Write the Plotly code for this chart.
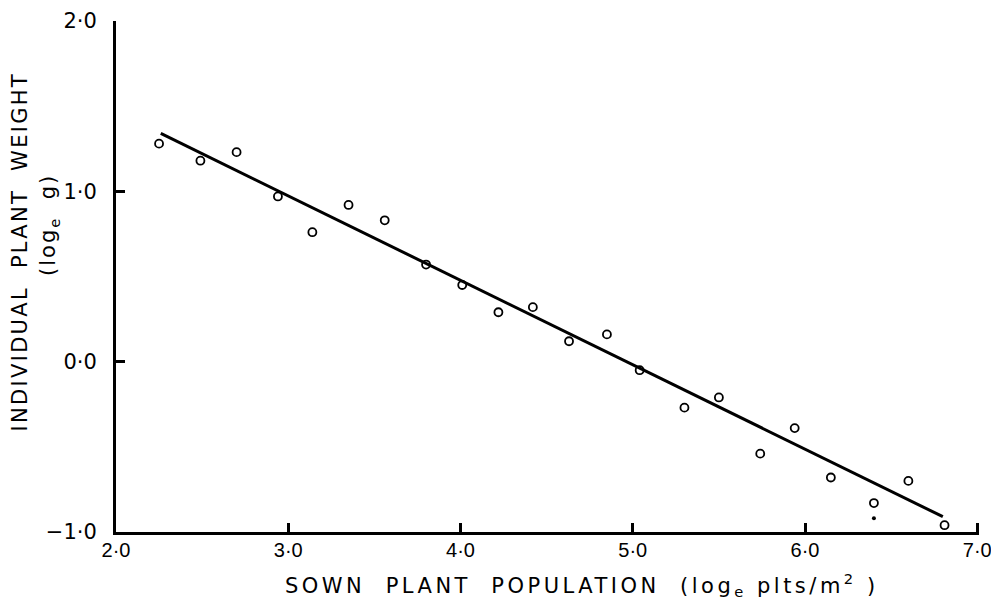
import plotly.graph_objects as go

# Data
pop_x = [2.25, 2.49, 2.70, 2.94, 3.14, 3.35, 3.56, 3.80, 4.01, 4.22, 4.42, 4.63,
         4.85, 5.04, 5.30, 5.50, 5.74, 5.94, 6.15, 6.40, 6.60, 6.81]
weight_y = [1.28, 1.18, 1.23, 0.97, 0.76, 0.92, 0.83, 0.57, 0.45, 0.29, 0.32, 0.12,
            0.16, -0.05, -0.27, -0.21, -0.54, -0.39, -0.68, -0.83, -0.70, -0.96]
dot_x = [6.40]
dot_y = [-0.92]
fit_x = [2.26, 6.80]
fit_y = [1.34, -0.91]

x_tickvals = [2, 3, 4, 5, 6, 7]
x_ticktext = ["2·0", "3·0", "4·0", "5·0", "6·0", "7·0"]
y_tickvals = [-1, 0, 1, 2]
y_ticktext = ["−1·0", "0·0", "1·0", "2·0"]

x_title = "SOWN  PLANT  POPULATION  (log<sub>e</sub> plts/m<sup>2</sup> )"
y_title = "INDIVIDUAL  PLANT  WEIGHT"
y_title2 = "(log<sub>e</sub>  g)"

FONT = "DejaVu Sans"
TICKFONT_X = "Liberation Sans"

fig = go.Figure()
fig.add_trace(go.Scatter(x=fit_x, y=fit_y, mode="lines",
                         line=dict(color="black", width=3), showlegend=False,
                         hoverinfo="skip"))
fig.add_trace(go.Scatter(x=pop_x, y=weight_y, mode="markers",
                         marker=dict(symbol="circle-open", size=8, color="black",
                                     line=dict(width=1.8, color="black")),
                         showlegend=False, hoverinfo="skip"))
fig.add_trace(go.Scatter(x=dot_x, y=dot_y, mode="markers",
                         marker=dict(symbol="circle", size=4, color="black"),
                         showlegend=False, hoverinfo="skip"))

fig.update_layout(
    width=991, height=608,
    margin=dict(l=116, r=12, t=21, b=76, autoexpand=False),
    paper_bgcolor="white", plot_bgcolor="white",
    font=dict(family=FONT, color="black", size=20),
    xaxis=dict(range=[2, 7.01], showgrid=False, zeroline=False, automargin=False,
               showline=True, linecolor="black", linewidth=3,
               ticks="inside", ticklen=9, tickwidth=3, tickcolor="black",
               tickvals=x_tickvals, ticktext=x_ticktext, ticklabeloverflow="allow",
               tickfont=dict(family=TICKFONT_X, size=20), ticklabelstandoff=-2),
    yaxis=dict(range=[-1, 2], showgrid=False, zeroline=False, automargin=False,
               showline=True, linecolor="black", linewidth=3,
               ticks="inside", ticklen=9, tickwidth=3, tickcolor="black",
               tickvals=y_tickvals, ticktext=y_ticktext, ticklabeloverflow="allow",
               tickfont=dict(family=FONT, size=21), ticklabelstandoff=12),
)

fig.add_annotation(xref="paper", yref="paper", x=0.540, y=-0.103,
                   text=x_title,
                   showarrow=False, xanchor="center", yanchor="middle",
                   font=dict(family=FONT, size=21, color="black"))
fig.add_annotation(xref="paper", yref="paper", x=-0.1115, y=0.548,
                   text=y_title,
                   textangle=-90, showarrow=False, xanchor="center", yanchor="middle",
                   font=dict(family=FONT, size=21, color="black"))
fig.add_annotation(xref="paper", yref="paper", x=-0.077, y=0.600,
                   text=y_title2,
                   textangle=-90, showarrow=False, xanchor="center", yanchor="middle",
                   font=dict(family=FONT, size=21, color="black"))

post = """
(function(){
  document.documentElement.style.margin = '0';
  document.body.style.margin = '0';
  document.body.style.overflow = 'hidden';
  var gd = document.getElementById('{plot_id}');
  var spacing = {'0': '3.5px', '1': '2.3px', '2': '2px'};
  gd.querySelectorAll('g.annotation').forEach(function(g){
    var i = g.getAttribute('data-index');
    var t = g.querySelector('text.annotation-text');
    if (t && spacing[i]) { t.style.letterSpacing = spacing[i]; }
  });
})();
"""

fig.write_html("out.html", post_script=post,
               config={"displayModeBar": False, "staticPlot": False})
